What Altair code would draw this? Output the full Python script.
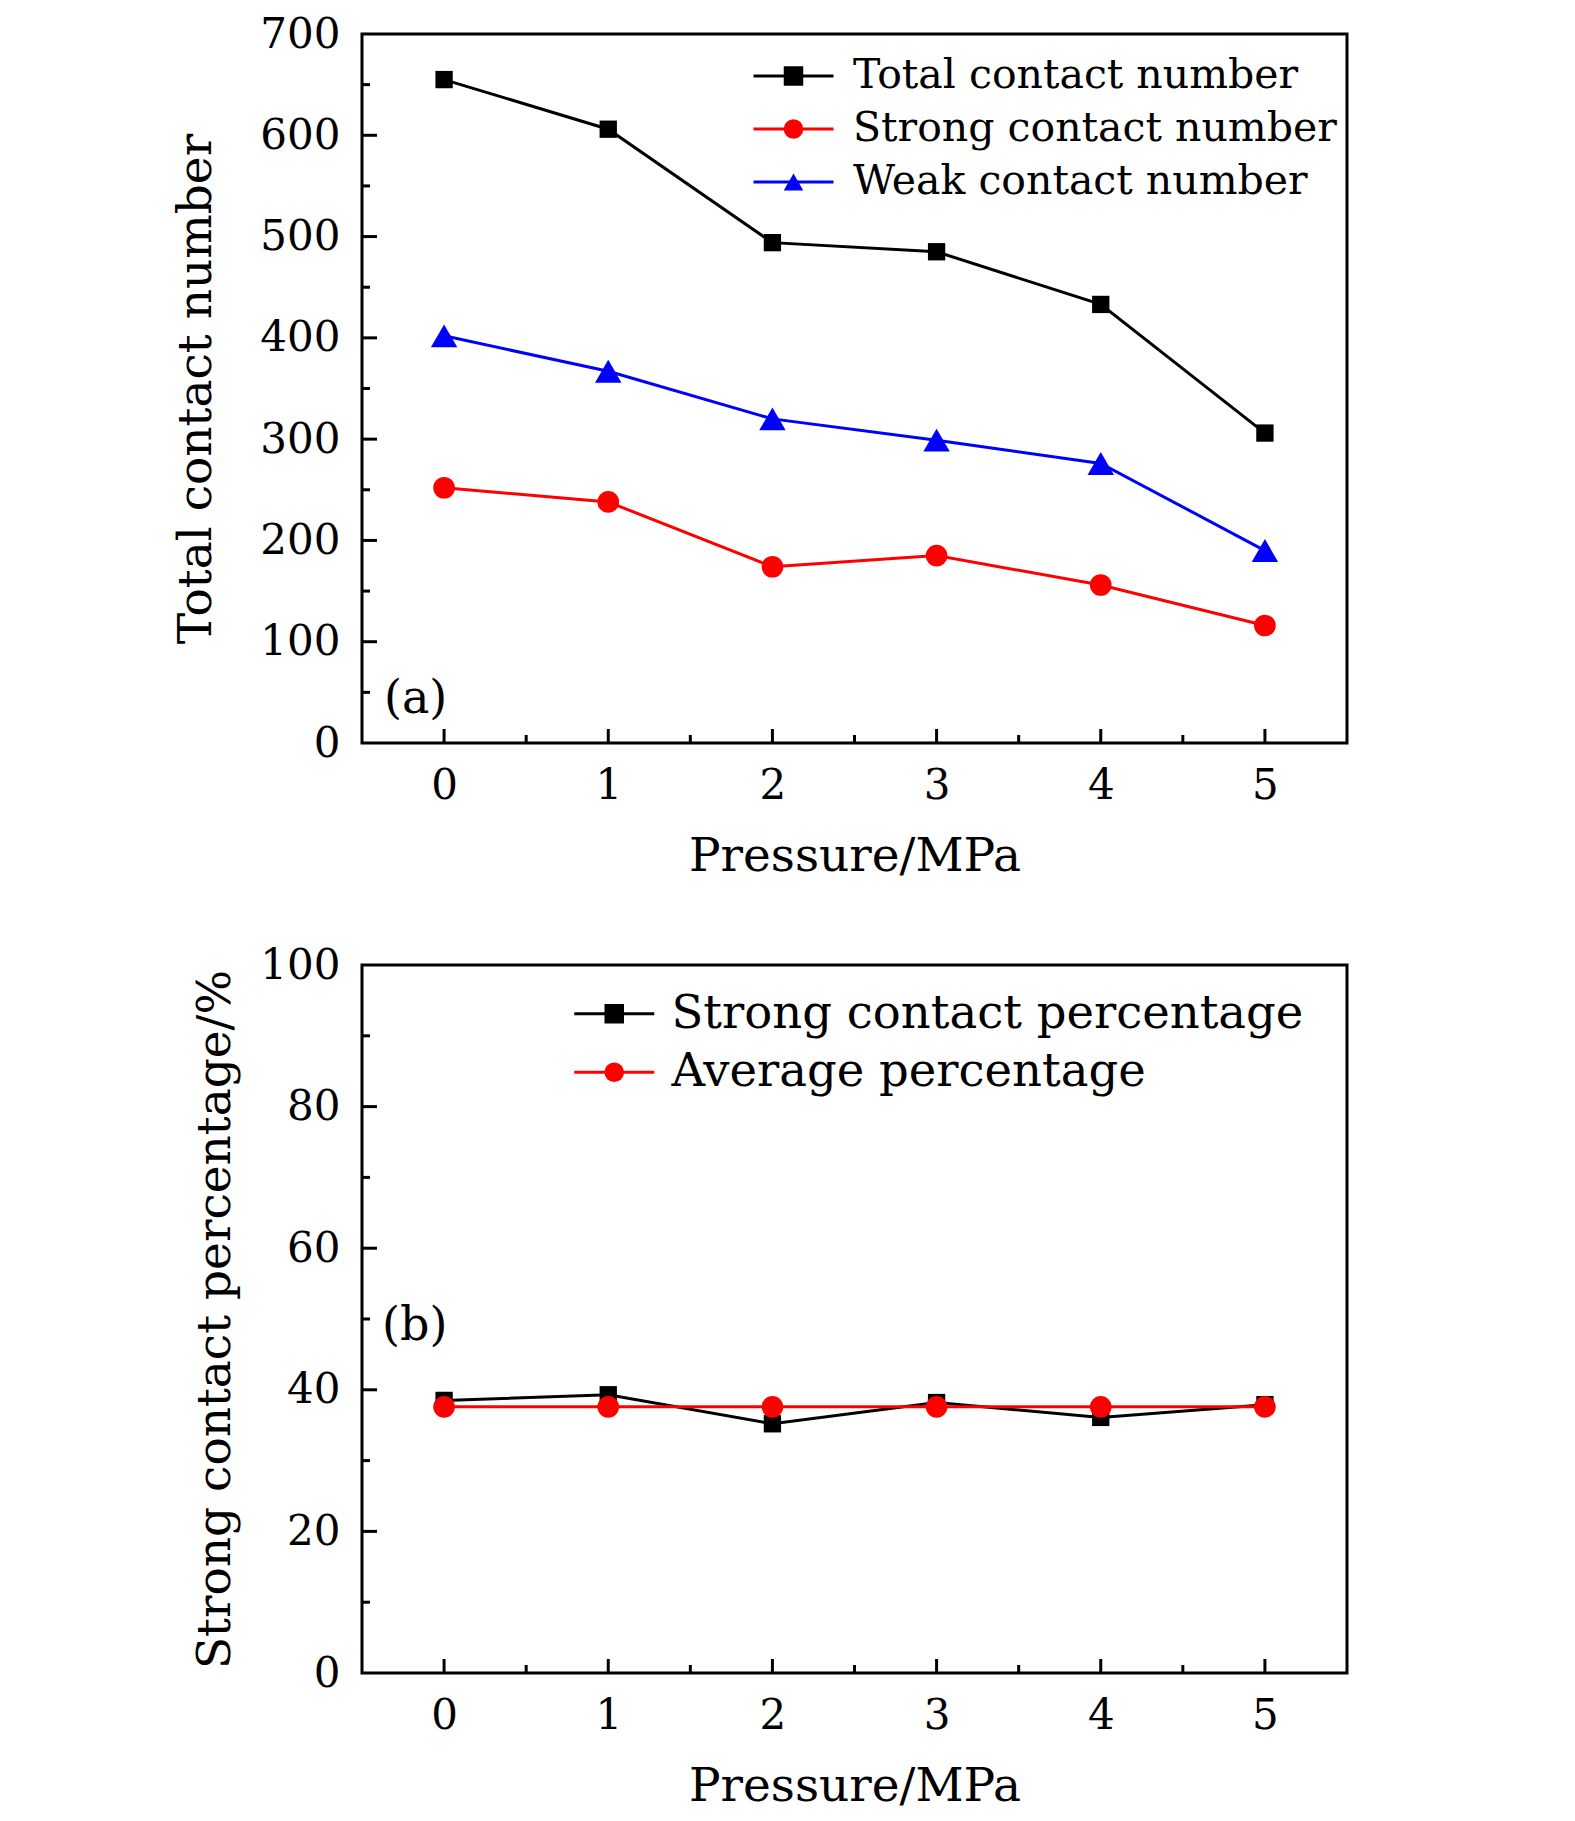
import altair as alt
import pandas as pd

# ---------------- data ----------------
pressure = [0, 1, 2, 3, 4, 5]
total_contact = [655, 606, 494, 485, 433, 306]
strong_contact = [252, 238, 174, 185, 156, 116]
weak_contact = [402, 367, 320, 299, 276, 190]

strong_pct = [38.5, 39.3, 35.2, 38.2, 36.1, 37.9]
avg_pct = [37.6, 37.6, 37.6, 37.6, 37.6, 37.6]

series_a = ["Total contact number", "Strong contact number", "Weak contact number"]
colors_a = ["#000000", "#ff0000", "#0000ff"]
shapes_a = ["square", "circle", "triangle-up"]
sizes_a = [300, 470, 700]

series_b = ["Strong contact percentage", "Average percentage"]
colors_b = ["#000000", "#ff0000"]
shapes_b = ["square", "circle"]
sizes_b = [300, 470]

x_major = [0, 1, 2, 3, 4, 5]
x_minor = [0.5, 1.5, 2.5, 3.5, 4.5]
ya_labels = [0, 100, 200, 300, 400, 500, 600, 700]
ya_major = [100, 200, 300, 400, 500, 600]
ya_minor = [50, 150, 250, 350, 450, 550, 650]
yb_labels = [0, 20, 40, 60, 80, 100]
yb_major = [20, 40, 60, 80]
yb_minor = [10, 30, 50, 70, 90]

FONT = "DejaVu Serif"
W = 985


def make_df(series_names, value_lists):
    rows = []
    for name, vals in zip(series_names, value_lists):
        for p, v in zip(pressure, vals):
            rows.append({"pressure": p, "value": v, "series": name, "series_p": name})
    return pd.DataFrame(rows)


def panel(df, names, colors, shapes, sizes, ydomain, ylabels, ymaj, ymin, ytitle,
          H, title_x, leg_x, leg_y, leg_font, leg_off, leg_rowpad, tag):
    xscale = alt.Scale(domain=[-0.5, 5.5], nice=False, zero=False)
    yscale = alt.Scale(domain=ydomain, nice=False, zero=False)
    xaxis = alt.Axis(values=x_major, format="d", title="Pressure/MPa", ticks=False,
                     domain=False, grid=False, labelPadding=22, labelFont=FONT,
                     labelFontSize=42, labelColor="black", titleFont=FONT,
                     titleFontSize=47, titleFontWeight="normal", titleColor="black",
                     titleBaseline="alphabetic", titleY=127)
    yaxis = alt.Axis(values=ylabels, format="d", title=ytitle, ticks=False,
                     domain=False, grid=False, labelPadding=22, labelFont=FONT,
                     labelFontSize=42, labelColor="black", titleFont=FONT,
                     titleFontSize=47, titleFontWeight="normal", titleColor="black",
                     titleBaseline="alphabetic", titleAngle=270, titleX=title_x)
    X = alt.X("pressure:Q", scale=xscale, axis=xaxis)
    Y = alt.Y("value:Q", scale=yscale, axis=yaxis)

    line_leg = alt.Legend(orient="none", legendX=leg_x, legendY=leg_y, title=None,
                          labelFont=FONT, labelFontSize=leg_font, labelColor="black",
                          labelLimit=0, labelOffset=leg_off, symbolOffset=0,
                          rowPadding=leg_rowpad, padding=0, symbolType="M-4,0H4",
                          symbolSize=400, symbolStrokeWidth=3)
    point_leg = alt.Legend(orient="none", legendX=leg_x, legendY=leg_y, title=None,
                           labelFont=FONT, labelFontSize=leg_font, labelOpacity=0,
                           labelLimit=0, labelOffset=leg_off, symbolOffset=0,
                           rowPadding=leg_rowpad, padding=0, symbolSize=380,
                           symbolStrokeWidth=0)

    lines = alt.Chart(df).mark_line(strokeWidth=3).encode(
        x=X, y=Y,
        color=alt.Color("series:N", scale=alt.Scale(domain=names, range=colors),
                        legend=line_leg),
        order=alt.Order("pressure:Q"),
    )
    points = alt.Chart(df).mark_point(filled=True, opacity=1, strokeWidth=0).encode(
        x=X, y=Y,
        color=alt.Color("series_p:N", scale=alt.Scale(domain=names, range=colors),
                        legend=point_leg),
        shape=alt.Shape("series_p:N", scale=alt.Scale(domain=names, range=shapes),
                        legend=point_leg),
        size=alt.Size("series_p:N",
                      scale=alt.Scale(type="ordinal", domain=names, range=sizes),
                      legend=None),
    )

    xmaj = alt.Chart(pd.DataFrame({"pressure": x_major})).mark_rule(
        color="black", strokeWidth=3).encode(x=X, y=alt.value(H), y2=alt.value(H - 14))
    xmin = alt.Chart(pd.DataFrame({"pressure": x_minor})).mark_rule(
        color="black", strokeWidth=3).encode(x=X, y=alt.value(H), y2=alt.value(H - 8))
    ymj = alt.Chart(pd.DataFrame({"value": ymaj})).mark_rule(
        color="black", strokeWidth=3).encode(y=Y, x=alt.value(0), x2=alt.value(15))
    ymn = alt.Chart(pd.DataFrame({"value": ymin})).mark_rule(
        color="black", strokeWidth=3).encode(y=Y, x=alt.value(0), x2=alt.value(8))

    tag_text = alt.Chart(pd.DataFrame({"t": [tag[0]]})).mark_text(
        font=FONT, fontSize=46, align="left", baseline="middle", color="black"
    ).encode(text="t:N", x=alt.value(tag[1]), y=alt.value(tag[2]))

    return alt.layer(lines, points, xmaj, xmin, ymj, ymn, tag_text).resolve_scale(
        color="independent", shape="independent"
    ).properties(
        width=W, height=H,
        view=alt.ViewBackground(stroke="black", strokeWidth=3, fill="white"),
    )


df_a = make_df(series_a, [total_contact, strong_contact, weak_contact])
df_b = make_df(series_b, [strong_pct, avg_pct])

pa = panel(df_a, series_a, colors_a, shapes_a, sizes_a, [0, 700], ya_labels, ya_major,
           ya_minor, "Total contact number", 709, -152, 411, 21.5, 41, 39, 11,
           ("(a)", 22, 665))
pb = panel(df_b, series_b, colors_b, shapes_b, sizes_b, [0, 100], yb_labels, yb_major,
           yb_minor, "Strong contact percentage/%", 708, -133, 229, 25.5, 46.5, 34, 11.5,
           ("(b)", 20, 361))

chart = alt.vconcat(pa, pb, spacing=61).properties(
    padding={"left": 162, "top": 3, "right": 5, "bottom": 5}
).configure_view(stroke="black", strokeWidth=3).configure(background="white")

chart.save("out.html", embed_options={"renderer": "svg", "actions": False})
